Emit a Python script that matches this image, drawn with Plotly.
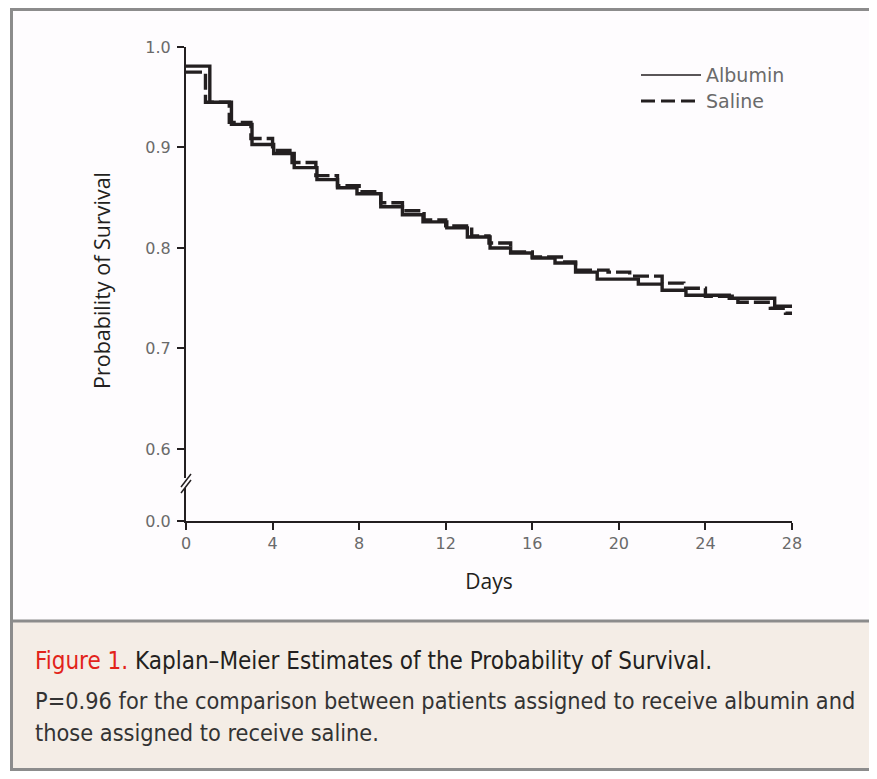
import plotly.graph_objects as go

# ---------------- data ----------------
albumin_days = [0, 1.1, 2.1, 3.05, 4.05, 5.0, 6.05, 7.0, 7.9, 9.0, 10.0, 10.95, 12.05, 13.0,
                14.05, 15.0, 16.0, 17.05, 18.0, 19.0, 20.9, 22.0, 23.1, 25.1, 27.2, 28.0]
albumin_surv = [0.981, 0.945, 0.923, 0.903, 0.894, 0.880, 0.868, 0.860, 0.854, 0.841, 0.833, 0.826,
                0.820, 0.811, 0.800, 0.795, 0.790, 0.785, 0.776, 0.769, 0.764, 0.758, 0.753, 0.750,
                0.742, 0.742]

saline_days = [0, 0.9, 2.0, 3.0, 4.0, 4.9, 6.0, 7.0, 8.0, 9.0, 10.0, 11.0, 12.0, 13.2, 14.0,
               15.0, 16.0, 17.5, 18.0, 19.5, 20.5, 22.0, 23.0, 24.0, 25.5, 27.0, 27.7, 28.0]
saline_surv = [0.975, 0.945, 0.925, 0.909, 0.897, 0.885, 0.872, 0.862, 0.856, 0.845, 0.837, 0.828,
               0.822, 0.812, 0.805, 0.796, 0.791, 0.786, 0.778, 0.776, 0.772, 0.765, 0.760, 0.752,
               0.746, 0.740, 0.735, 0.735]

x_ticks = [0, 4, 8, 12, 16, 20, 24, 28]
y_ticks = [0.6, 0.7, 0.8, 0.9, 1.0]
y_ticklabels = ["0.6", "0.7", "0.8", "0.9", "1.0"]
series_names = ["Albumin", "Saline"]

# ---------------- layout geometry (page pixels) ----------------
OFF = 8                                       # default page body margin
W, H = 877 - 2 * OFF, 779 - 2 * OFF           # keep the page free of scrollbars
PL, PR, PT, PB = 186, 792, 47, 521            # plot area in page pixels
PW, PH = PR - PL, PB - PT
PER_UNIT = 1004.0                             # pixels per 1.0 of survival probability


def px(x):
    return (x - PL) / PW


def py(y):
    return (PB - y) / PH


INK = "#231f20"
GREY = "#6a6a6a"

fig = go.Figure()

fig.add_trace(go.Scatter(x=albumin_days, y=albumin_surv, mode="lines", line_shape="hv",
                         line=dict(color=INK, width=3.4), name=series_names[0], showlegend=False))
fig.add_trace(go.Scatter(x=saline_days, y=saline_surv, mode="lines", line_shape="hv",
                         line=dict(color=INK, width=3.4, dash="16px,5px"), name=series_names[1],
                         showlegend=False))
# anchor trace for the lower (0.0) axis segment
fig.add_trace(go.Scatter(x=[0], y=[0], yaxis="y2", mode="markers", marker=dict(opacity=0),
                         showlegend=False, hoverinfo="skip"))

tick_font = dict(family="DejaVu Sans", size=16, color=GREY)

y_break_top = 478
y_break_bot = 488

fig.update_layout(
    width=W, height=H,
    margin=dict(l=PL - OFF, r=W - (PR - OFF), t=PT - OFF, b=H - (PB - OFF), pad=0),
    paper_bgcolor="white",
    plot_bgcolor="rgba(0,0,0,0)",
    showlegend=False,
    xaxis=dict(range=[0, 28], tickvals=x_ticks, ticks="outside", ticklen=7, tickwidth=2,
               tickcolor=INK, showline=True, linecolor=INK, linewidth=2, showgrid=False,
               zeroline=False, anchor="y2", tickfont=tick_font,
               title=dict(text="Days", font=dict(family="Open Sans", size=21, color=INK),
                          standoff=22)),
    yaxis=dict(domain=[py(y_break_top), 1], range=[0.6 - (y_break_top - 449) / PER_UNIT, 1.0],
               tickvals=y_ticks, ticktext=y_ticklabels, ticks="outside", ticklen=7, tickwidth=2,
               tickcolor=INK, showline=True, linecolor=INK, linewidth=2, showgrid=False,
               zeroline=False, anchor="x", tickfont=tick_font, ticklabelstandoff=3),
    yaxis2=dict(domain=[0, py(y_break_bot)], range=[0, (PB - y_break_bot) / PER_UNIT],
                tickvals=[0], ticktext=["0.0"], ticks="outside", ticklen=7, tickwidth=2,
                tickcolor=INK, showline=True, linecolor=INK, linewidth=2, showgrid=False,
                zeroline=False, anchor="x", tickfont=tick_font, ticklabelstandoff=3),
)

BOTTOM = 769.5
shapes = []
# backgrounds
shapes.append(dict(type="rect", xref="paper", yref="paper", x0=px(11), x1=px(890), y0=py(621),
                   y1=py(10), fillcolor="#fefcfe", line=dict(width=0), layer="below"))
shapes.append(dict(type="rect", xref="paper", yref="paper", x0=px(11), x1=px(890), y0=py(BOTTOM),
                   y1=py(621), fillcolor="#f4ede6", line=dict(width=0), layer="below"))
# frame (right edge lies outside the picture)
frame = dict(color="#8c8c8c", width=3)
shapes.append(dict(type="rect", xref="paper", yref="paper", x0=px(11.5), x1=px(890),
                   y0=py(BOTTOM), y1=py(9.5), line=frame, layer="above"))
shapes.append(dict(type="line", xref="paper", yref="paper", x0=px(11.5), x1=px(890),
                   y0=py(621), y1=py(621), line=frame))
# axis break marks
for off in (0, 6):
    shapes.append(dict(type="line", xref="paper", yref="paper", x0=px(181), x1=px(191),
                       y0=py(487 + off), y1=py(474 + off), line=dict(color=INK, width=1.5)))
# legend samples
shapes.append(dict(type="line", xref="paper", yref="paper", x0=px(641), x1=px(701),
                   y0=py(75), y1=py(75), line=dict(color=INK, width=1.5)))
shapes.append(dict(type="line", xref="paper", yref="paper", x0=px(641), x1=px(701),
                   y0=py(101), y1=py(101), line=dict(color=INK, width=3.2, dash="14px,6px")))
fig.update_layout(shapes=shapes)

leg_font = dict(family="DejaVu Sans", size=19, color=GREY)
annotations = [
    dict(text=series_names[0], x=px(704), y=py(75), xref="paper", yref="paper",
         xanchor="left", yanchor="middle", showarrow=False, font=leg_font),
    dict(text=series_names[1], x=px(704), y=py(101), xref="paper", yref="paper",
         xanchor="left", yanchor="middle", showarrow=False, font=leg_font),
    # y-axis title, centred on the full (broken) axis
    dict(text="Probability of Survival", x=px(101), y=py(281), xref="paper", yref="paper",
         xanchor="center", yanchor="middle", textangle=-90, showarrow=False,
         font=dict(family="Open Sans", size=21.5, color=INK)),
]
cap_family = "Liberation Sans Narrow, DejaVu Sans Condensed, sans-serif"
annotations.append(dict(
    text="<span style='color:#e2231a'>Figure 1.</span> Kaplan–Meier Estimates of the Probability of Survival.",
    x=px(33), y=py(661), xref="paper", yref="paper", xanchor="left", yanchor="middle",
    showarrow=False, font=dict(family=cap_family, size=24, color=INK)))
annotations.append(dict(
    text="P=0.96 for the comparison between patients assigned to receive albumin and",
    x=px(33), y=py(700), xref="paper", yref="paper", xanchor="left", yanchor="middle",
    showarrow=False, font=dict(family=cap_family, size=23.3, color="#333333")))
annotations.append(dict(
    text="those assigned to receive saline.",
    x=px(33), y=py(733), xref="paper", yref="paper", xanchor="left", yanchor="middle",
    showarrow=False, font=dict(family=cap_family, size=23.3, color="#333333")))
fig.update_layout(annotations=annotations)

fig.write_html("out.html")
